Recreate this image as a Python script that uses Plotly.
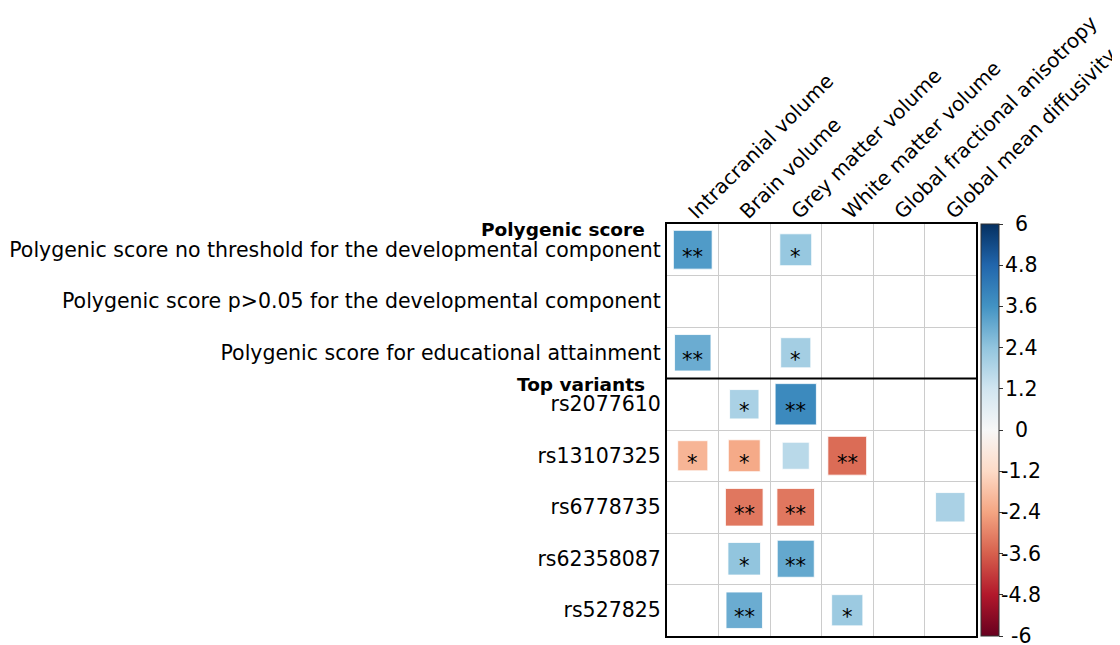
import numpy as np
import plotly.graph_objects as go
import plotly.express as px

columns = ["Intracranial volume", "Brain volume", "Grey matter volume",
           "White matter volume", "Global fractional anisotropy", "Global mean diffusivity"]
rows = ["Polygenic score no threshold for the developmental component",
        "Polygenic score p>0.05 for the developmental component",
        "Polygenic score for educational attainment",
        "rs2077610", "rs13107325", "rs6778735", "rs62358087", "rs527825"]

# nonzero cells: (row index, column index, value, significance label)
cell_row = [0, 0, 2, 2, 3, 3, 4, 4, 4, 4, 5, 5, 5, 6, 6, 7, 7]
cell_col = [0, 2, 0, 2, 1, 2, 0, 1, 2, 3, 1, 2, 5, 1, 2, 1, 3]
cell_val = [3.4, 2.3, 3.0, 2.05, 1.95, 3.85, -2.05, -2.3, 1.65, -3.4, -3.2, -3.2, 1.95, 2.4, 3.1, 3.0, 2.2]
cell_sig = ["**", "*", "**", "*", "*", "**", "*", "*", "", "**", "**", "**", "", "*", "**", "**", "*"]

cbar_ticks = [6, 4.8, 3.6, 2.4, 1.2, 0, -1.2, -2.4, -3.6, -4.8, -6]
cbar_text = ["6", "4.8", "3.6", "2.4", "1.2", "0", "-1.2", "-2.4", "-3.6", "-4.8", "-6"]

W, H = 1120, 645
PW, PH = 309, 412           # plot area size
ML, MT = 659, 216           # page has 8px body margin
MR = W - ML - PW
MB = H - MT - PH
cell_px = PW / len(columns)
vmax = 6.0
sizes = [cell_px * np.sqrt(abs(v) / vmax) for v in cell_val]

FONT = "DejaVu Sans"
FS = 20.5

fig = go.Figure()
fig.add_trace(go.Scatter(
    x=cell_col, y=cell_row, mode="markers",
    marker=dict(symbol="square", size=sizes, color=cell_val, opacity=1,
                colorscale=px.colors.diverging.RdBu, cmin=-vmax, cmax=vmax,
                line=dict(color="rgba(255,255,255,0.8)", width=1),
                colorbar=dict(thickness=18, len=1, lenmode="fraction", y=0.5, yanchor="middle",
                              x=1.0, xpad=5, ypad=0, xanchor="left",
                              tickvals=cbar_ticks, showticklabels=False,
                              ticks="outside", ticklen=4, tickcolor="#333",
                              outlinecolor="#333", outlinewidth=1)),
    hoverinfo="skip", showlegend=False,
))

# colorbar labels, centred like the reference
for v, t in zip(cbar_ticks, cbar_text):
    fig.add_annotation(text=t, xref="paper", x=(1013 - ML) / PW, yref="paper",
                       y=(v + vmax) / (2 * vmax), xanchor="center", yanchor="middle",
                       showarrow=False, font=dict(family=FONT, size=FS, color="black"))

for r, c, s in zip(cell_row, cell_col, cell_sig):
    if s:
        fig.add_annotation(x=c, y=r, text=s, showarrow=False, yshift=-7,
                           font=dict(family=FONT, size=21, color="black"))

fig.update_xaxes(
    range=[-0.5, len(columns) - 0.5], side="top",
    tickvals=list(range(len(columns))), ticktext=columns, tickangle=-45,
    tickfont=dict(family=FONT, size=20, color="black"), ticklabeloverflow="allow",
    ticklabelstandoff=-9, ticklabelshift=-3,
    showgrid=False, zeroline=False, ticks="",
    minor=dict(tickvals=[i + 0.5 for i in range(len(columns) - 1)], showgrid=True,
               gridcolor="#cccccc", gridwidth=1),
    showline=True, mirror=True, linecolor="black", linewidth=2,
)
fig.update_yaxes(
    range=[len(rows) - 0.5, -0.5],
    tickvals=list(range(len(rows))), ticktext=rows,
    tickfont=dict(family=FONT, size=FS, color="black"), ticklabeloverflow="allow",
    showgrid=False, zeroline=False, ticks="",
    minor=dict(tickvals=[i + 0.5 for i in range(len(rows) - 1)], showgrid=True,
               gridcolor="#cccccc", gridwidth=1),
    showline=True, mirror=True, linecolor="black", linewidth=2,
)

# separator between groups
fig.add_shape(type="line", xref="paper", x0=0, x1=1, yref="y", y0=2.5, y1=2.5,
              line=dict(color="black", width=2))

fig.add_annotation(text="<b>Polygenic score</b>", xref="paper", x=-20 / PW,
                   yref="y", y=-0.4, xanchor="right", yanchor="middle", showarrow=False,
                   font=dict(family=FONT, size=18.5, color="black"))
fig.add_annotation(text="<b>Top variants</b>", xref="paper", x=-20 / PW,
                   yref="y", y=2.62, xanchor="right", yanchor="middle", showarrow=False,
                   font=dict(family=FONT, size=18.5, color="black"))

fig.update_layout(
    width=W, height=H, margin=dict(l=ML, r=MR, t=MT, b=MB, autoexpand=False),
    plot_bgcolor="white", paper_bgcolor="white",
    font=dict(family=FONT, color="black"),
)

fig.write_html("out.html")
